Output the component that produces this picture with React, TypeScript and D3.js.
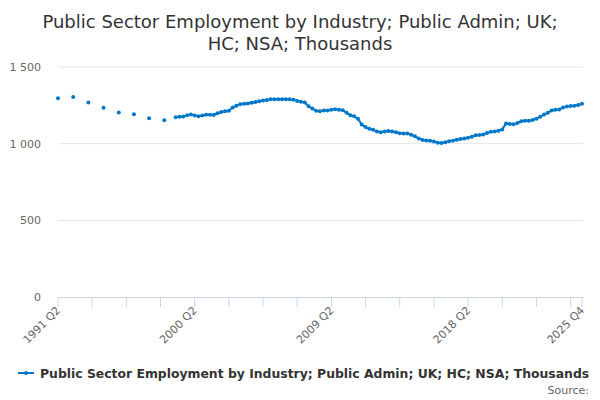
import React, { useEffect, useRef } from "react";
import * as d3 from "d3";

// annual observations (Q2 of each year) before the quarterly series starts
const annualYears = [1991, 1992, 1993, 1994, 1995, 1996, 1997, 1998];
const annualValues = [1296, 1305, 1268, 1234, 1203, 1192, 1166, 1153];

// quarterly observations, 1999 Q1 .. 2025 Q4
const quarterlyStartYear = 1999;
const quarterlyValues = [
    1173, 1175, 1177, 1186, // 1999
    1190, 1184, 1178, 1184, // 2000
    1188, 1188, 1187, 1199, // 2001
    1206, 1212, 1214, 1236, // 2002
    1248, 1257, 1261, 1262, // 2003
    1267, 1272, 1277, 1282, // 2004
    1285, 1289, 1290, 1290, // 2005
    1290, 1290, 1289, 1287, // 2006
    1279, 1274, 1268, 1244, // 2007
    1229, 1214, 1212, 1216, // 2008
    1216, 1222, 1225, 1221, // 2009
    1218, 1201, 1186, 1178, // 2010
    1162, 1125, 1108, 1097, // 2011
    1090, 1080, 1075, 1080, // 2012
    1082, 1080, 1074, 1068, // 2013
    1067, 1066, 1058, 1048, // 2014
    1034, 1024, 1020, 1019, // 2015
    1014, 1006, 1004, 1009, // 2016
    1015, 1019, 1025, 1030, // 2017
    1034, 1038, 1045, 1055, // 2018
    1057, 1060, 1070, 1077, // 2019
    1079, 1084, 1093, 1132, // 2020
    1128, 1126, 1134, 1146, // 2021
    1149, 1150, 1155, 1162, // 2022
    1176, 1190, 1202, 1216, // 2023
    1221, 1223, 1236, 1242, // 2024
    1245, 1248, 1252, 1260, // 2025
];

const xTickLabels = ["1991 Q2", "2000 Q2", "2009 Q2", "2018 Q2", "2025 Q4"];
const yTicks = [0, 500, 1000, 1500];

const seriesName = "Public Sector Employment by Industry; Public Admin; UK; HC; NSA; Thousands";
const titleLines = ["Public Sector Employment by Industry; Public Admin; UK;", "HC; NSA; Thousands"];

const font = "'DejaVu Sans', sans-serif";
const blue = "#0077c8";

// every quarter from 1991 Q2 to 2025 Q4 is a category on the axis
const categories: string[] = [];
for (let y = 1991; y <= 2025; y++) {
    for (let q = 1; q <= 4; q++) {
        if (y === 1991 && q < 2) continue;
        categories.push(`${y} Q${q}`);
    }
}

const valueMap = new Map<string, number>();
annualYears.forEach((y, i) => valueMap.set(`${y} Q2`, annualValues[i]));
quarterlyValues.forEach((v, i) => {
    const y = quarterlyStartYear + Math.floor(i / 4);
    valueMap.set(`${y} Q${(i % 4) + 1}`, v);
});
const series = categories.map(c => ({ label: c, value: valueMap.has(c) ? valueMap.get(c)! : null }));

export default function App() {
    const svgRef = useRef<SVGSVGElement>(null);

    useEffect(() => {
        if (!svgRef.current) return;
        const svg = d3.select(svgRef.current);
        svg.selectAll("*").remove();

        const width = 600, height = 400;
        const left = 58, right = 582, top = 67, bottom = 297;

        svg.attr("width", width).attr("height", height).style("font-family", font);

        const x = d3.scalePoint<string>().domain(categories).range([left, right]);
        const y = d3.scaleLinear().domain([0, 1500]).range([bottom, top]);

        // title
        svg.append("text")
            .attr("x", width / 2).attr("y", 28)
            .attr("text-anchor", "middle")
            .style("font-size", "18px").style("fill", "#333")
            .selectAll("tspan")
            .data(titleLines)
            .enter()
            .append("tspan")
            .attr("x", width / 2)
            .attr("dy", (d, i) => (i === 0 ? 0 : 22))
            .text(d => d);

        // grid
        svg.append("g").selectAll("line")
            .data(yTicks.filter(t => t > 0))
            .enter()
            .append("line")
            .attr("x1", left).attr("x2", right + 1)
            .attr("y1", d => y(d)).attr("y2", d => y(d))
            .attr("stroke", "#e6e6e6").attr("stroke-width", 1);

        const fmt = (v: number) => d3.format(",")(v).replace(",", " ");
        svg.append("g").selectAll("text")
            .data(yTicks)
            .enter()
            .append("text")
            .attr("x", 41).attr("y", d => y(d) + 4)
            .attr("text-anchor", "end")
            .style("font-size", "11px").style("fill", "#666")
            .style("white-space", "pre")
            .text(d => fmt(d));

        // x axis
        svg.append("line")
            .attr("x1", left).attr("x2", right + 1)
            .attr("y1", bottom + 0.5).attr("y2", bottom + 0.5)
            .attr("stroke", "#ccd6eb");

        const tickIdx = d3.range(0, categories.length, 9).concat([categories.length - 1]);
        svg.append("g").selectAll("line")
            .data(tickIdx)
            .enter()
            .append("line")
            .attr("x1", d => x(categories[d])!).attr("x2", d => x(categories[d])!)
            .attr("y1", bottom).attr("y2", bottom + 10)
            .attr("stroke", "#ccd6eb");

        svg.append("g").selectAll("text")
            .data(xTickLabels)
            .enter()
            .append("text")
            .attr("transform", d => `translate(${x(d)! + 3},${bottom + 14}) rotate(-45)`)
            .attr("text-anchor", "end")
            .style("font-size", "11px").style("fill", "#666")
            .text(d => d);

        // series
        const line = d3.line<{ label: string; value: number | null }>()
            .defined(d => d.value !== null)
            .x(d => x(d.label)!)
            .y(d => y(d.value as number));

        svg.append("path")
            .datum(series)
            .attr("fill", "none")
            .attr("stroke", blue)
            .attr("stroke-width", 2)
            .attr("d", line);

        svg.append("g").selectAll("circle")
            .data(series.filter(d => d.value !== null))
            .enter()
            .append("circle")
            .attr("cx", d => x(d.label)!)
            .attr("cy", d => y(d.value as number))
            .attr("r", 2)
            .attr("fill", blue);

        // legend
        const lg = svg.append("g").attr("transform", "translate(18,373)");
        lg.append("line").attr("x1", 0).attr("x2", 16).attr("y1", 0).attr("y2", 0)
            .attr("stroke", blue).attr("stroke-width", 2);
        lg.append("circle").attr("cx", 8).attr("cy", 0).attr("r", 2).attr("fill", blue);
        lg.append("text")
            .attr("x", 22).attr("y", 4.5)
            .style("font-size", "12.4px").style("font-weight", "bold").style("fill", "#333")
            .text(seriesName);

        svg.append("text")
            .attr("x", 589).attr("y", 394)
            .attr("text-anchor", "end")
            .style("font-size", "11px").style("fill", "#666")
            .text("Source:");
    }, []);

    return (
        <svg ref={svgRef} style={{ position: "absolute", left: 0, top: 0, background: "#fff" }} />
    );
}
